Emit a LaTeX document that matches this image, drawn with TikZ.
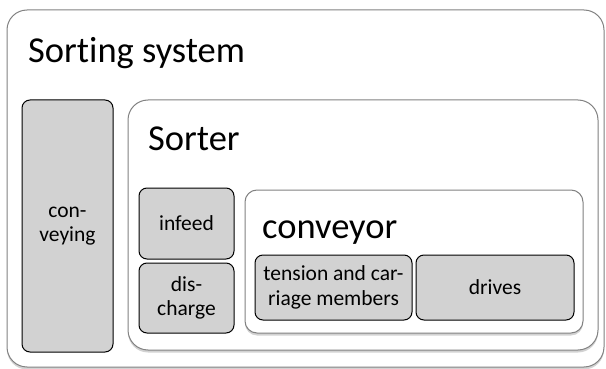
\documentclass[tikz,border=0pt]{standalone}
\usepackage{fontspec}
\setmainfont{Carlito}[Ligatures={NoCommon}]
\usetikzlibrary{shadows}
\definecolor{boxfill}{RGB}{210,210,210}
\definecolor{frame}{RGB}{130,130,130}
\begin{document}
\begin{tikzpicture}[x=1pt,y=-1pt,
  container/.style={draw=frame, line width=1pt, fill=white, rounded corners=20pt, inner sep=0pt,
    drop shadow={opacity=0.35, shadow xshift=0pt, shadow yshift=-2.5pt}},
  part/.style={draw=black, line width=1pt, fill=boxfill, rounded corners=8pt, align=center,
    font=\fontsize{21.5}{24.5}\selectfont, inner sep=0pt},
  title/.style={anchor=base west, font=\fontsize{36.5}{40}\selectfont, inner sep=0pt}]
\useasboundingbox (0,0) rectangle (606,369);
\node[container, minimum width=597pt, minimum height=357pt] (system) at (305.5,188.5) {};
\node[title] (systemtitle) at (28,63) {Sorting system};
\node[part, minimum width=91pt, minimum height=252pt] (conveying) at (67.5,226) {con-\\veying};
\node[container, minimum width=470pt, minimum height=250pt] (sorter) at (363,225) {};
\node[title] (sortertitle) at (148,150) {Sorter};
\node[part, minimum width=95pt, minimum height=71pt] (infeed) at (186.5,223.5) {infeed};
\node[part, minimum width=95pt, minimum height=70pt] (discharge) at (186.5,298) {dis-\\charge};
\node[container, rounded corners=12pt, minimum width=338pt, minimum height=143pt] (conveyor) at (414,261.5) {};
\node[title] (conveyortitle) at (262,238) {conveyor};
\node[part, minimum width=157pt, minimum height=65pt] (tension) at (333.5,287.5) {tension and car-\\riage members};
\node[part, minimum width=158pt, minimum height=65pt] (drives) at (495,287.5) {drives};
\end{tikzpicture}
\end{document}
